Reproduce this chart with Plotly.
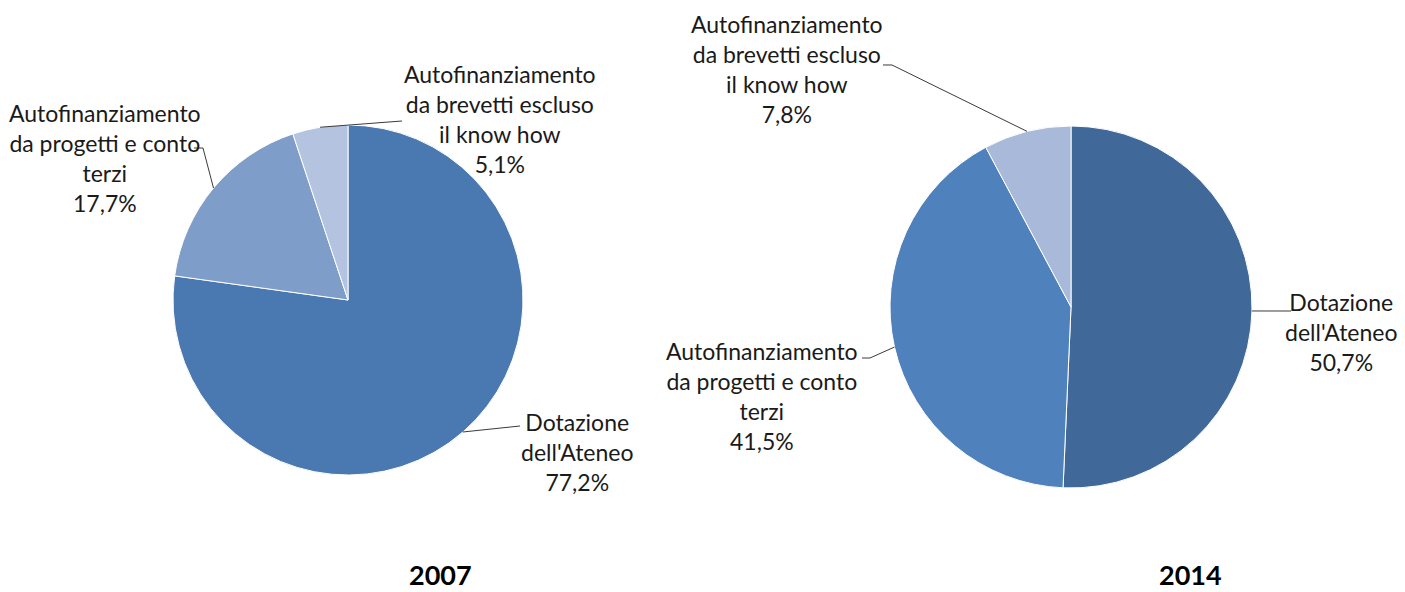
import math
import plotly.graph_objects as go

OFF = 8  # page body margin
W, H = 1405 - OFF, 592 - OFF

categories = ["Dotazione<br>dell'Ateneo",
              "Autofinanziamento<br>da progetti e conto<br>terzi",
              "Autofinanziamento<br>da brevetti escluso<br>il know how"]
years = ["2007", "2014"]
values_2007 = [77.2, 17.7, 5.1]
values_2014 = [50.7, 41.5, 7.8]
colors_2007 = ["#4a78b0", "#7f9dc9", "#b4c4e0"]
colors_2014 = ["#406899", "#4f81bd", "#a9b9d9"]

FONT = "Lato"
TXT = "#1a1a1a"

def px(x):
    return (x - OFF) / W

def py(y):
    return 1 - (y - OFF) / H

# pie geometry (pixels): center x, center y, radius
pies = [
    dict(year=years[0], vals=values_2007, cols=colors_2007, cx=348, cy=300, r=175,
         label_pos=[(577, 452), (105, 158), (500, 119)],
         elbows=[[(520, 426)], [(203, 148), (194, 148)], [(402, 121)]],
         title_x=440),
    dict(year=years[1], vals=values_2014, cols=colors_2014, cx=1071, cy=307, r=181,
         label_pos=[(1341, 332), (762, 396), (787, 69)],
         elbows=[[(1291, 311)], [(870, 358), (862, 358)], [(892, 65), (883, 65)]],
         title_x=1190),
]

fig = go.Figure()
shapes = []
annotations = []

for p in pies:
    cx, cy, r = p["cx"], p["cy"], p["r"]
    fig.add_trace(go.Pie(
        values=p["vals"], labels=categories, sort=False, direction="clockwise",
        rotation=0, textinfo="none", hoverinfo="label+percent",
        marker=dict(colors=p["cols"], line=dict(color="white", width=1)),
        domain=dict(x=[px(cx - r), px(cx + r)], y=[py(cy + r), py(cy - r)]),
        showlegend=False,
    ))
    total = sum(p["vals"])
    cum = 0
    for i, v in enumerate(p["vals"]):
        mid = (cum + v / 2) / total * 2 * math.pi
        cum += v
        sx = cx + r * math.sin(mid)
        sy = cy - r * math.cos(mid)
        pts = [(sx, sy)] + p["elbows"][i]
        path = "M " + " L ".join(f"{px(a):.5f},{py(b):.5f}" for a, b in pts)
        shapes.append(dict(type="path", path=path, xref="paper", yref="paper",
                           line=dict(color="#3a3a3a", width=1)))
        lx, ly = p["label_pos"][i]
        pct = f"{v:.1f}".replace(".", ",") + "%"
        annotations.append(dict(
            text=f"{categories[i]}<br>{pct}", x=px(lx), y=py(ly),
            xref="paper", yref="paper", xanchor="center", yanchor="middle",
            showarrow=False, align="center",
            font=dict(family=FONT, size=23, color=TXT)))
    annotations.append(dict(
        text=f"<b>{p['year']}</b>", x=px(p["title_x"]), y=0, xref="paper", yref="paper",
        xanchor="center", yanchor="bottom", showarrow=False, borderpad=0,
        font=dict(family=FONT, size=27, color="#000000")))

fig.update_layout(
    width=W, height=H, margin=dict(l=0, r=0, t=0, b=0),
    paper_bgcolor="white", plot_bgcolor="white",
    shapes=shapes, annotations=annotations,
)

fig.write_html("out.html")
